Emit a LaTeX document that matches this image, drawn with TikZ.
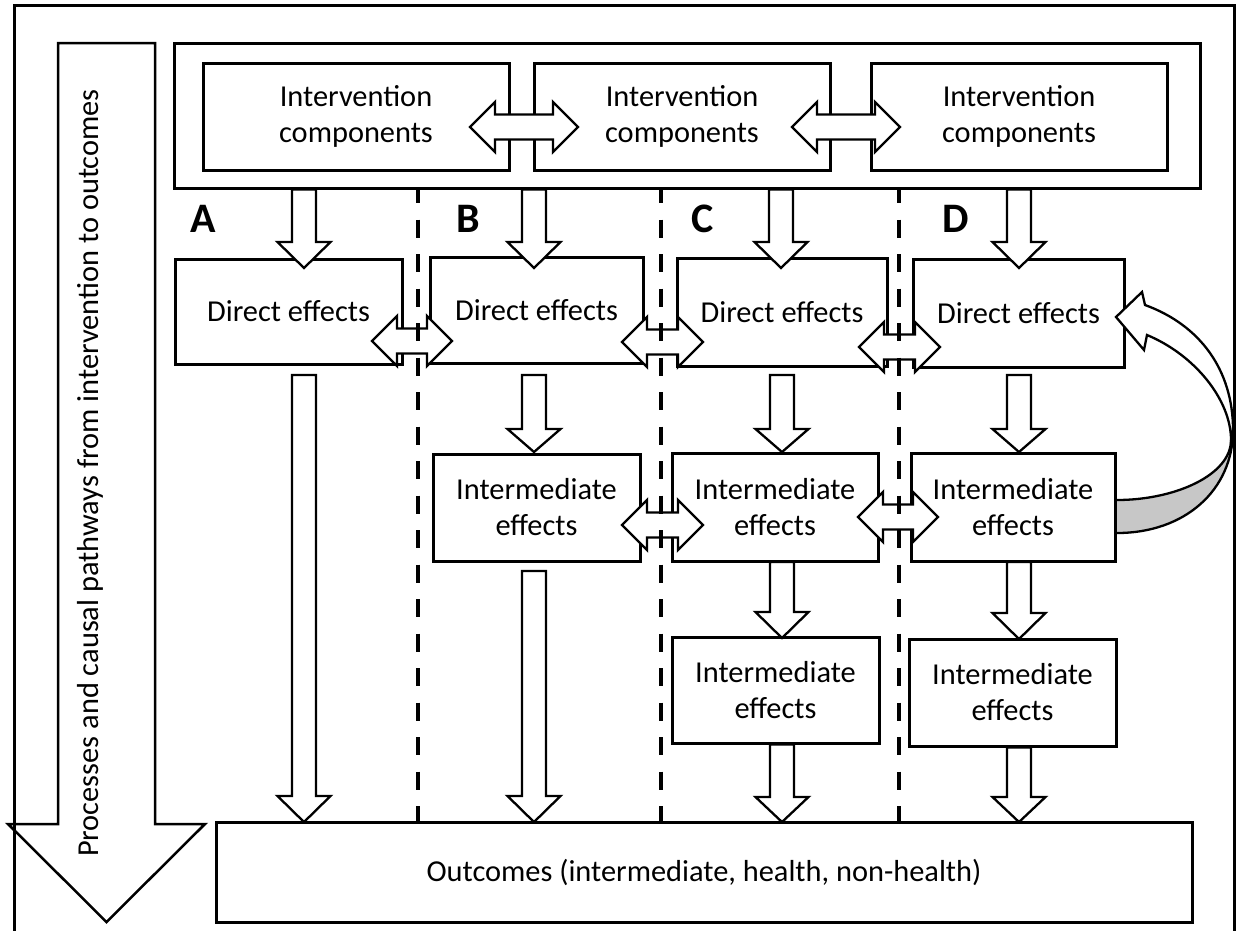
\documentclass[tikz,border=0pt]{standalone}
\usepackage{fontspec}
\setmainfont{Carlito}
\usetikzlibrary{calc}

% vertical block arrow: x, top of shaft, base of head, tip
\newcommand\downblock[4]{%
  \draw[blockarrow] (#1-12,#2) -- (#1+12,#2) -- (#1+12,#3) -- (#1+26.5,#3)
    -- (#1,#4) -- (#1-26.5,#3) -- (#1-12,#3) -- cycle;}
% horizontal two-headed block arrow: centre x, centre y, half length
\newcommand\twoheadblock[3]{%
  \draw[blockarrow] (#1-#3,#2) -- (#1-#3+25,#2-25) -- (#1-#3+25,#2-12.5)
    -- (#1+#3-25,#2-12.5) -- (#1+#3-25,#2-25) -- (#1+#3,#2)
    -- (#1+#3-25,#2+25) -- (#1+#3-25,#2+12.5) -- (#1-#3+25,#2+12.5)
    -- (#1-#3+25,#2+25) -- cycle;}

\tikzset{
  txt/.style={font=\fontsize{30.4}{36}\selectfont},
  box/.style={draw, line width=3pt, fill=white, inner sep=0pt, align=center, txt},
  blockarrow/.style={draw, line width=2.3pt, fill=white, line join=miter},
  dashline/.style={line width=4pt, dash pattern=on 18pt off 16.5pt, dash phase=5pt},
  letter/.style={font=\fontsize{42}{42}\selectfont\bfseries, inner sep=0pt},
}

\begin{document}
\begin{tikzpicture}[x=1pt, y=-1pt]
\useasboundingbox (0,0) rectangle (1238,930);

% big arrow down the left side
\draw[line width=2.5pt, line join=miter] (58,43) -- (155,43) -- (155,824) -- (205,824)
  -- (106.5,922) -- (8,824) -- (58,824) -- cycle;
\node[txt, rotate=90, anchor=base, inner sep=0pt] (axis) at (98,473)
  {Processes and causal pathways from intervention to outcomes};

% outer frame
\draw[line width=3pt] (14,940) -- (14,5) -- (1234,5) -- (1234,940);

% intervention row
\node[box, minimum width=1026, minimum height=145] (cont) at (687,115.5) {};
\node[box, minimum width=306, minimum height=107] (ic1) at (356,116.5) {Intervention\\components};
\node[box, minimum width=296, minimum height=107] (ic2) at (682,116.5) {Intervention\\components};
\node[box, minimum width=296, minimum height=107] (ic3) at (1019,116.5) {Intervention\\components};

% direct effects
\node[box, minimum width=227, minimum height=105] (dA) at (288.5,311.5) {Direct effects};
\node[box, minimum width=213, minimum height=106] (dB) at (536.5,310) {Direct effects};
\node[box, minimum width=210, minimum height=108] (dC) at (782,312) {Direct effects};
\node[box, minimum width=211, minimum height=108] (dD) at (1018.5,313) {Direct effects};

% intermediate effects
\node[box, minimum width=207, minimum height=107] (iB) at (536.5,507.5) {Intermediate\\effects};
\node[box, minimum width=206, minimum height=108] (iC) at (775,507) {Intermediate\\effects};
\node[box, minimum width=204, minimum height=108] (iD) at (1013,507) {Intermediate\\effects};
\node[box, minimum width=207, minimum height=106] (jC) at (775.5,690) {Intermediate\\effects};
\node[box, minimum width=207, minimum height=107] (jD) at (1012.5,692.5) {Intermediate\\effects};

% outcomes
\node[box, minimum width=976, minimum height=100] (out) at (704,872)
  {Outcomes (intermediate, health, non-health)};

% downward block arrows
\downblock{304}{189.5}{242}{268}
\downblock{534}{189.5}{242}{268}
\downblock{781}{189.5}{242}{268}
\downblock{1019}{189.5}{242}{268}
\downblock{534}{375}{429}{452}
\downblock{782}{375}{429}{452}
\downblock{1019}{375}{429}{452}
\downblock{782}{562}{612}{638}
\downblock{1019}{562}{613}{639}
\downblock{304}{375}{796}{822}
\downblock{534}{571}{796}{822}
\downblock{782}{744.5}{797}{822}
\downblock{1019}{747.5}{797}{822}

% two-headed block arrows between neighbouring boxes
\twoheadblock{524}{127}{54}
\twoheadblock{846}{127}{54}
\twoheadblock{412}{341}{40}
\twoheadblock{662.5}{342}{40.5}
\twoheadblock{899.5}{347}{40.5}
\twoheadblock{662.5}{525}{40.5}
\twoheadblock{898}{517}{40}

% column separators
\draw[dashline] (418,190) -- (418,826);
\draw[dashline] (661,190) -- (661,826);
\draw[dashline] (899,190) -- (899,826);

% feedback arrow from intermediate to direct effects (column D)
\fill[black!22] (1233,430) .. controls (1233,490) and (1185,533) .. (1117,533)
  -- (1117,500) .. controls (1175,500) and (1231,475) .. (1231,440) -- cycle;
\draw[line width=2.3pt] (1233,430) .. controls (1233,490) and (1185,533) .. (1117,533);
\draw[line width=2.3pt] (1231,440) .. controls (1231,475) and (1175,500) .. (1117,500);
\draw[blockarrow] (1116,317) -- (1142,292) -- (1145,305)
  .. controls (1200,325) and (1233,370) .. (1233,430)
  -- (1231,440) .. controls (1231,400) and (1195,355) .. (1147,335)
  -- (1144,350) -- cycle;

% column letters
\node[letter] (labA) at (203,219) {A};
\node[letter] (labB) at (468,219) {B};
\node[letter] (labC) at (703,219) {C};
\node[letter] (labD) at (956,219) {D};
\end{tikzpicture}
\end{document}
